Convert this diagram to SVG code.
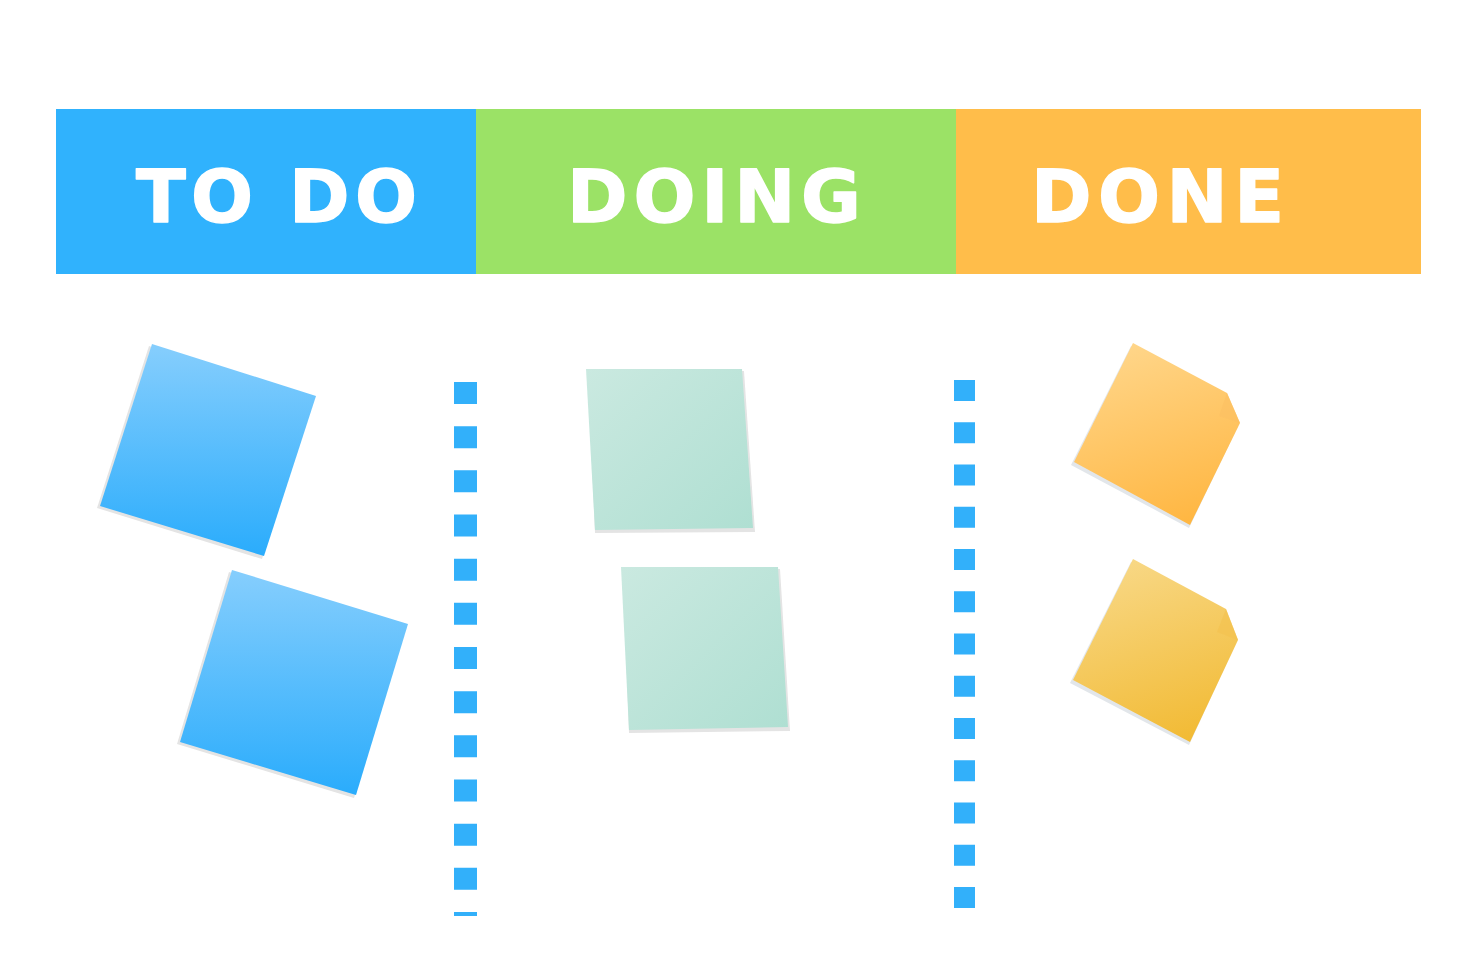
<svg xmlns="http://www.w3.org/2000/svg" width="1460" height="965" viewBox="0 0 1460 965">
  <style>
    .hdr { font-family: "DejaVu Sans", "Liberation Sans", sans-serif; font-weight: bold; font-size: 73px; fill: #ffffff; stroke: #ffffff; stroke-width: 1.4px; stroke-linejoin: round; }
    .shadow { fill: #e4e4e4; }
    .oshadow { fill: #e2e6ea; }
    .dash { stroke: #32b0fa; fill: none; }
  </style>
  <defs>
    <linearGradient id="gBlue" x1="0" y1="0" x2="0" y2="1">
      <stop offset="0" stop-color="#86cefd"/>
      <stop offset="1" stop-color="#2aacfc"/>
    </linearGradient>
    <linearGradient id="gGreen" x1="0" y1="0" x2="1" y2="1">
      <stop offset="0" stop-color="#cae9e0"/>
      <stop offset="1" stop-color="#afdfd2"/>
    </linearGradient>
    <linearGradient id="gOrange1" x1="0.3" y1="0" x2="0.6" y2="1">
      <stop offset="0" stop-color="#ffd68a"/>
      <stop offset="1" stop-color="#ffb743"/>
    </linearGradient>
    <linearGradient id="gOrange2" x1="0.3" y1="0" x2="0.6" y2="1">
      <stop offset="0" stop-color="#f8d886"/>
      <stop offset="1" stop-color="#f2bb36"/>
    </linearGradient>
  </defs>
  <rect width="1460" height="965" fill="#ffffff"/>

  <g id="header-todo">
    <rect x="56" y="109" width="420" height="165" fill="#30b2fd"/>
    <text class="hdr" x="136" y="222" textLength="281" lengthAdjust="spacing">TO DO</text>
  </g>
  <g id="header-doing">
    <rect x="476" y="109" width="480" height="165" fill="#9be266"/>
    <text class="hdr" x="567" y="222" textLength="294" lengthAdjust="spacing">DOING</text>
  </g>
  <g id="header-done">
    <rect x="956" y="109" width="465" height="165" fill="#ffbd4a"/>
    <text class="hdr" x="1031" y="222" textLength="253" lengthAdjust="spacing">DONE</text>
  </g>

  <g id="dividers">
    <line class="dash" x1="465.5" y1="382" x2="465.5" y2="916" stroke-width="23" stroke-dasharray="22 22.17"/>
    <line class="dash" x1="964.5" y1="380" x2="964.5" y2="908" stroke-width="21" stroke-dasharray="21 21.25"/>
  </g>

  <g id="note-todo-1">
    <polygon class="shadow" points="149,346 313,399 262,559 97,508"/>
    <polygon fill="url(#gBlue)" points="152,344 316,396 264,556 100,506"/>
  </g>
  <g id="note-todo-2">
    <polygon class="shadow" points="229,572 405,627 354,798 177,744"/>
    <polygon fill="url(#gBlue)" points="232,570 408,624 356,795 180,742"/>
  </g>

  <g id="note-doing-1">
    <polygon class="shadow" points="588,371 744,371 755,532 595,533"/>
    <polygon fill="url(#gGreen)" points="586,369 742,369 753,528 595,530"/>
  </g>
  <g id="note-doing-2">
    <polygon class="shadow" points="623,569 780,569 790,731 629,733"/>
    <polygon fill="url(#gGreen)" points="621,567 778,567 788,727 629,730"/>
  </g>

  <g id="note-done-1">
    <polygon class="oshadow" points="1131,346 1224,396 1238,426 1189,528 1071,465"/>
    <polygon fill="url(#gOrange1)" points="1133,343 1227,393 1240,423 1190,525 1074,462"/>
    <polygon fill="#fbc062" opacity="0.6" points="1227,393 1240,423 1219,416"/>
  </g>
  <g id="note-done-2">
    <polygon class="oshadow" points="1131,562 1224,612 1236,643 1189,745 1070,683"/>
    <polygon fill="url(#gOrange2)" points="1133,559 1226,609 1238,640 1190,742 1073,680"/>
    <polygon fill="#f3c14e" opacity="0.6" points="1226,609 1238,640 1217,632"/>
  </g>
</svg>
